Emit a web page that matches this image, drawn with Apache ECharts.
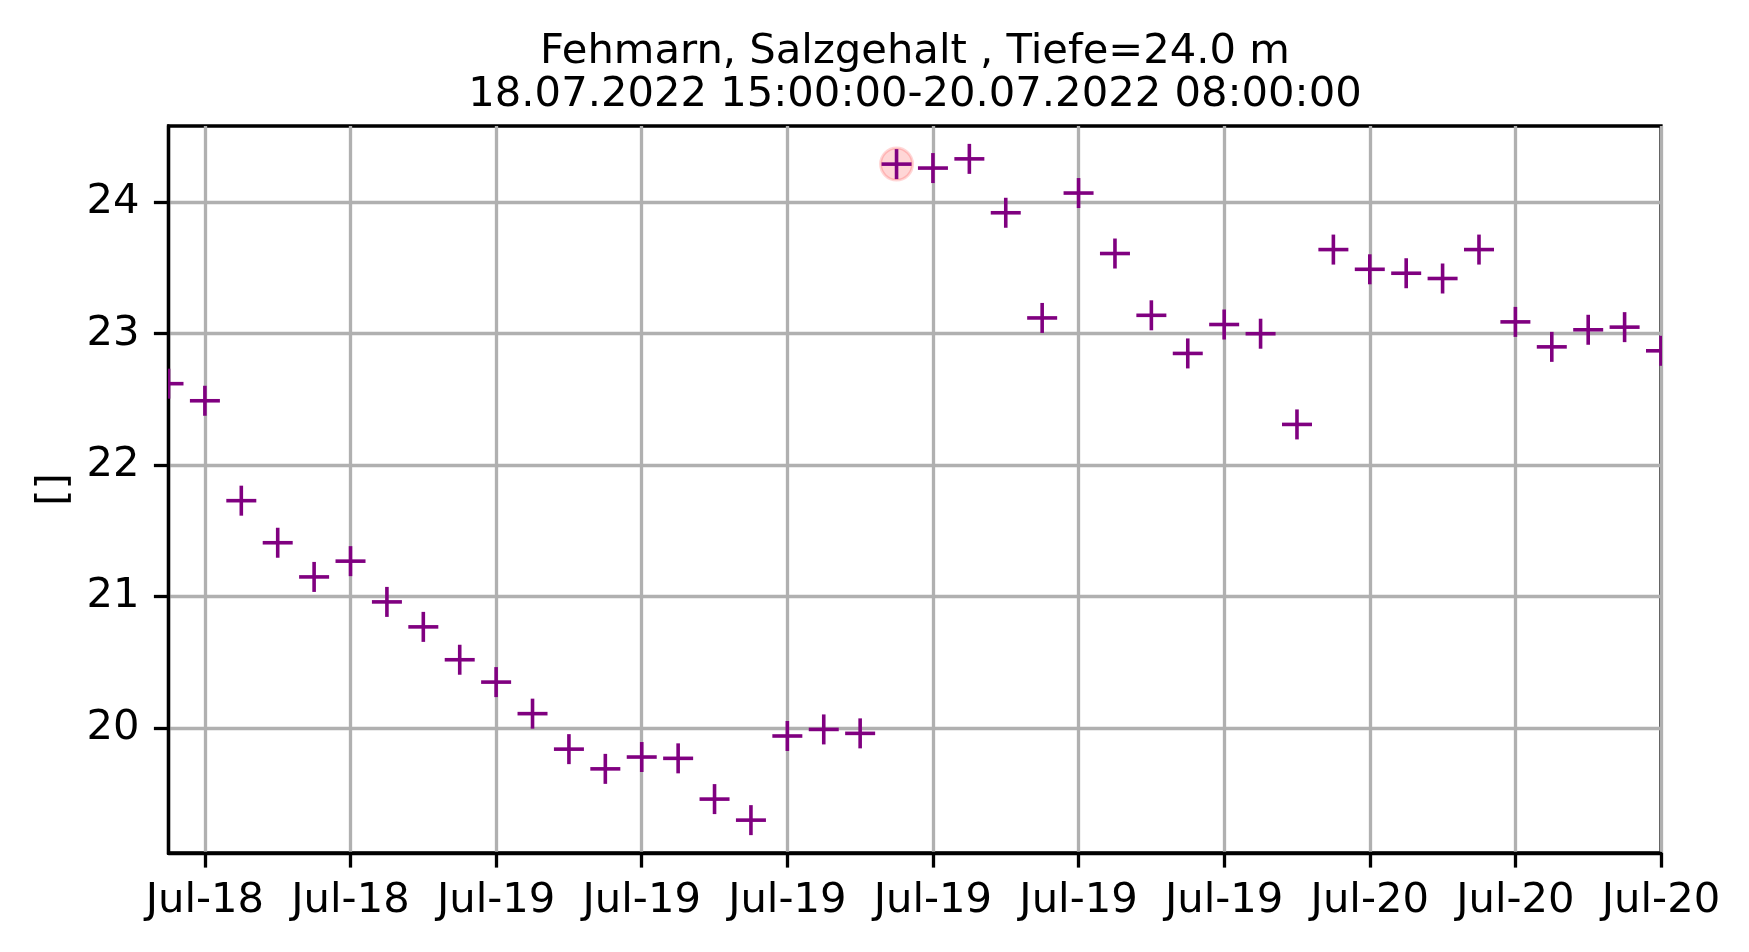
<!DOCTYPE html>
<html>
<head>
<meta charset="utf-8">
<script src="https://cdn.jsdelivr.net/npm/echarts@6/dist/echarts.min.js"></script>
<style>
html,body{margin:0;padding:0;background:#fff;}
#chart{width:1749px;height:952px;}
</style>
</head>
<body>
<div id="chart"></div>
<script>
// ---- data ----
const titleLines = ['Fehmarn, Salzgehalt , Tiefe=24.0 m', '18.07.2022 15:00:00-20.07.2022 08:00:00'];
const yAxisName = '[]';
const times = [
  '2022-07-18 15:00','2022-07-18 16:00','2022-07-18 17:00','2022-07-18 18:00','2022-07-18 19:00',
  '2022-07-18 20:00','2022-07-18 21:00','2022-07-18 22:00','2022-07-18 23:00',
  '2022-07-19 00:00','2022-07-19 01:00','2022-07-19 02:00','2022-07-19 03:00','2022-07-19 04:00',
  '2022-07-19 05:00','2022-07-19 06:00','2022-07-19 07:00','2022-07-19 08:00','2022-07-19 09:00',
  '2022-07-19 10:00','2022-07-19 11:00','2022-07-19 12:00','2022-07-19 13:00','2022-07-19 14:00',
  '2022-07-19 15:00','2022-07-19 16:00','2022-07-19 17:00','2022-07-19 18:00','2022-07-19 19:00',
  '2022-07-19 20:00','2022-07-19 21:00','2022-07-19 22:00','2022-07-19 23:00',
  '2022-07-20 00:00','2022-07-20 01:00','2022-07-20 02:00','2022-07-20 03:00','2022-07-20 04:00',
  '2022-07-20 05:00','2022-07-20 06:00','2022-07-20 07:00','2022-07-20 08:00'
];
const salinity = [
  22.62,22.49,21.73,21.41,21.15,21.27,20.96,20.77,20.52,
  20.35,20.11,19.84,19.69,19.78,19.77,19.46,19.30,19.94,19.99,
  19.96,24.29,24.26,24.33,23.92,23.12,24.07,23.61,23.14,22.85,
  23.07,23.00,22.31,23.64,
  23.49,23.46,23.42,23.64,23.09,22.90,23.03,23.05,22.87
];
const highlightIndex = 20;
const yTicks = [20, 21, 22, 23, 24];
const yMin = 19.05, yMax = 24.58;
const tickHourStep = 4;
const monthNames = ['Jan','Feb','Mar','Apr','May','Jun','Jul','Aug','Sep','Oct','Nov','Dec'];

// ---- helpers ----
function hourOf(s){ return parseInt(s.slice(11,13),10); }
function isTick(idx){ return hourOf(times[idx]) % tickHourStep === 0; }
function fmtDate(s){ return monthNames[parseInt(s.slice(5,7),10)-1] + '-' + s.slice(8,10); }

const FONT = 'DejaVu Sans';
const FS = 41.7;
const LW = 3.3;
const purple = '#800080';
const plusSize = 30;

const chart = echarts.init(document.getElementById('chart'), null, {renderer:'canvas'});
chart.setOption({
  animation: false,
  backgroundColor: '#fff',
  textStyle: { fontFamily: FONT },
  graphic: [{
    type: 'text',
    x: 915, y: 30,
    style: {
      text: titleLines.join('\n'),
      fontFamily: FONT, fontSize: FS, lineHeight: 43.5,
      fill: '#000', align: 'center', verticalAlign: 'top'
    }
  }],
  grid: {
    left: 168.5, right: 88, top: 126, bottom: 99,
    show: true, borderColor: '#000', borderWidth: LW, backgroundColor: 'transparent'
  },
  xAxis: {
    type: 'category',
    data: times,
    boundaryGap: false,
    axisLine: { show: true, lineStyle: { color: '#000', width: LW } },
    axisTick: { show: true, length: 14.6, lineStyle: { color: '#000', width: LW },
      interval: function(idx){ return isTick(idx); } },
    axisLabel: { show: true, margin: 27, fontSize: FS, fontFamily: FONT, color: '#000',
      interval: function(idx){ return isTick(idx); },
      formatter: function(v){ return fmtDate(v); } },
    splitLine: { show: true, lineStyle: { color: '#b0b0b0', width: LW },
      interval: function(idx){ return isTick(idx); } }
  },
  yAxis: {
    type: 'value',
    min: yMin, max: yMax,
    name: yAxisName,
    nameLocation: 'middle',
    nameGap: 92,
    nameTextStyle: { fontSize: FS, fontFamily: FONT, color: '#000' },
    axisLine: { show: true, lineStyle: { color: '#000', width: LW } },
    axisTick: { show: true, length: 14.6, lineStyle: { color: '#000', width: LW }, customValues: yTicks },
    axisLabel: { show: true, margin: 29, fontSize: FS, fontFamily: FONT, color: '#000', customValues: yTicks,
      formatter: function(v){ return yTicks.indexOf(v) >= 0 ? String(v) : ''; } },
    splitLine: { show: true, lineStyle: { color: '#b0b0b0', width: LW } }
  },
  series: [
    {
      type: 'scatter',
      symbol: 'circle',
      symbolSize: 32,
      itemStyle: { color: 'rgba(255,0,0,0.2)', borderColor: 'rgba(255,0,0,0.2)', borderWidth: 3 },
      data: [[times[highlightIndex], salinity[highlightIndex]]],
      z: 2
    },
    {
      type: 'custom',
      clip: true,
      z: 3,
      encode: { x: 0, y: 1 },
      data: times.map(function(t, i){ return [t, salinity[i]]; }),
      renderItem: function(params, api){
        const p = api.coord([api.value(0), api.value(1)]);
        const h = plusSize / 2;
        return {
          type: 'group',
          children: [
            { type: 'line', shape: { x1: p[0]-h, y1: p[1], x2: p[0]+h, y2: p[1] }, style: { stroke: purple, lineWidth: 3.6 } },
            { type: 'line', shape: { x1: p[0], y1: p[1]-h, x2: p[0], y2: p[1]+h }, style: { stroke: purple, lineWidth: 3.6 } }
          ]
        };
      }
    }
  ]
});
</script>
</body>
</html>
